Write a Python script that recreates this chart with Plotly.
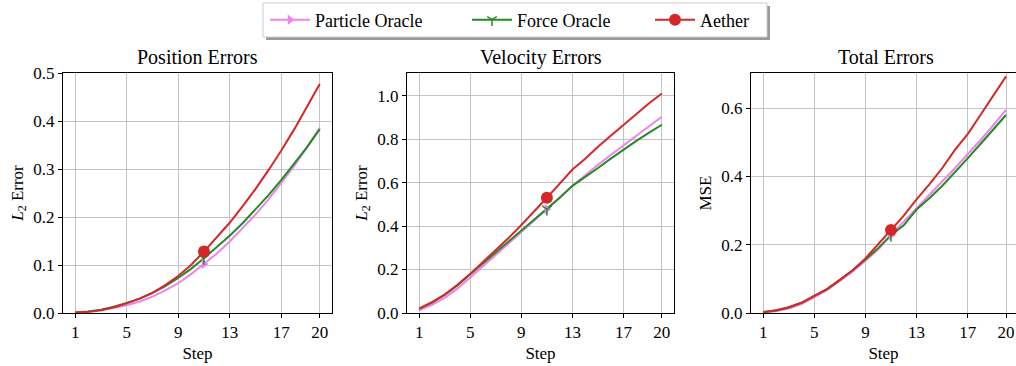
import plotly.graph_objects as go

steps = list(range(1, 21))
tick_steps = [1, 5, 9, 13, 17, 20]
marker_step = 11

series_names = ["Particle Oracle", "Force Oracle", "Aether"]

pos_particle = [0.0008, 0.002, 0.005, 0.0097, 0.016, 0.024, 0.034, 0.047, 0.062, 0.081,
                0.102, 0.124, 0.149, 0.176, 0.205, 0.236, 0.270, 0.306, 0.345, 0.386]
pos_force = [0.001, 0.003, 0.0068, 0.013, 0.021, 0.030, 0.042, 0.056, 0.073, 0.092,
             0.114, 0.137, 0.161, 0.187, 0.215, 0.245, 0.277, 0.310, 0.345, 0.383]
pos_aether = [0.001, 0.0025, 0.006, 0.012, 0.020, 0.030, 0.042, 0.058, 0.077, 0.100,
              0.128, 0.157, 0.188, 0.222, 0.258, 0.297, 0.338, 0.382, 0.428, 0.477]

vel_particle = [0.012, 0.038, 0.07, 0.112, 0.163, 0.215, 0.268, 0.32, 0.372, 0.425,
                0.478, 0.53, 0.585, 0.635, 0.682, 0.727, 0.77, 0.815, 0.86, 0.903]
vel_force = [0.02, 0.048, 0.083, 0.127, 0.178, 0.228, 0.28, 0.332, 0.382, 0.43,
             0.478, 0.53, 0.585, 0.625, 0.667, 0.71, 0.752, 0.792, 0.83, 0.866]
vel_aether = [0.02, 0.05, 0.085, 0.13, 0.18, 0.235, 0.29, 0.345, 0.405, 0.465,
              0.53, 0.595, 0.66, 0.71, 0.765, 0.815, 0.865, 0.915, 0.965, 1.01]

tot_particle = [0.0015, 0.005, 0.013, 0.026, 0.046, 0.068, 0.094, 0.122, 0.153, 0.186,
                0.228, 0.268, 0.305, 0.347, 0.385, 0.424, 0.464, 0.506, 0.55, 0.595]
tot_force = [0.002, 0.007, 0.016, 0.03, 0.05, 0.07, 0.097, 0.125, 0.157, 0.19,
             0.228, 0.257, 0.303, 0.336, 0.372, 0.411, 0.453, 0.495, 0.538, 0.58]
tot_aether = [0.003, 0.008, 0.017, 0.03, 0.05, 0.07, 0.097, 0.125, 0.16, 0.2,
              0.243, 0.285, 0.333, 0.377, 0.424, 0.478, 0.524, 0.58, 0.637, 0.693]

panel_titles = ["Position Errors", "Velocity Errors", "Total Errors"]
y_titles = ["<i>L</i><sub>2</sub> Error", "<i>L</i><sub>2</sub> Error", "MSE"]

colors = ["#EE82EE", "#228B22", "#D62728"]
symbols = ["triangle-right", "y-down", "circle"]
msizes = [9, 8, 12]

panels = [
    [pos_particle, pos_force, pos_aether],
    [vel_particle, vel_force, vel_aether],
    [tot_particle, tot_force, tot_aether],
]

W, H = 1016, 366
x_dom_px = [(63, 332), (407, 674), (751, 1016)]
y_dom_px = (73, 313)
x_ranges = [[0.05, 20.95], [0.05, 20.95], [0.05, 20.78]]
y_ranges = [[0, 0.5], [0, 1.104], [0, 0.703]]
y_dticks = [0.1, 0.2, 0.2]
legend_x_px = [265, 467, 650]

FONT = "Liberation Serif, Times New Roman, serif"


def marker_style(i):
    mk = dict(color=colors[i], size=msizes[i], symbol=symbols[i])
    if symbols[i] == "y-down":
        mk["line"] = dict(color=colors[i], width=1.5)
    return mk


fig = go.Figure()

for p, data in enumerate(panels):
    xa = "x" if p == 0 else f"x{p+1}"
    ya = "y" if p == 0 else f"y{p+1}"
    for i, vals in enumerate(data):
        fig.add_trace(go.Scatter(
            x=steps, y=vals, mode="lines", xaxis=xa, yaxis=ya,
            line=dict(color=colors[i], width=2), showlegend=False, hoverinfo="skip"))
    k = steps.index(marker_step)
    for i, vals in enumerate(data):
        fig.add_trace(go.Scatter(
            x=[steps[k]], y=[vals[k]], mode="markers", xaxis=xa, yaxis=ya,
            marker=marker_style(i), showlegend=False, hoverinfo="skip"))

# legend entries (one legend per entry, positioned like the reference)
legend_ids = ["legend", "legend2", "legend3"]
for i, name in enumerate(series_names):
    fig.add_trace(go.Scatter(
        x=[None], y=[None], mode="lines+markers", name=name, legend=legend_ids[i],
        line=dict(color=colors[i], width=2), marker=marker_style(i), showlegend=True))

layout = dict(
    width=W, height=H,
    margin=dict(l=0, r=0, t=0, b=0, pad=0),
    paper_bgcolor="white", plot_bgcolor="white",
    font=dict(family=FONT, size=16, color="black"),
    showlegend=True,
    annotations=[],
    shapes=[],
)

for i, lid in enumerate(legend_ids):
    layout[lid] = dict(
        orientation="h", x=legend_x_px[i] / W, xanchor="left",
        y=1 - 20 / H, yanchor="middle",
        bgcolor="rgba(0,0,0,0)", borderwidth=0,
        font=dict(family=FONT, size=18), itemwidth=40)

for p in range(3):
    sfx = "" if p == 0 else str(p + 1)
    x0, x1 = x_dom_px[p]
    layout["xaxis" + sfx] = dict(
        domain=[x0 / W, x1 / W], range=x_ranges[p], anchor="y" + sfx,
        tickvals=tick_steps, ticks="outside", ticklen=4, tickwidth=1, tickcolor="black",
        showline=True, linecolor="black", linewidth=1, mirror=True,
        showgrid=True, gridcolor="#c4c4c4", gridwidth=1, zeroline=False,
        tickfont=dict(family=FONT, size=17, color="black"), automargin=False,
        title=dict(text="Step", font=dict(family=FONT, size=17), standoff=5),
    )
    layout["yaxis" + sfx] = dict(
        domain=[1 - y_dom_px[1] / H, 1 - y_dom_px[0] / H], range=y_ranges[p],
        anchor="x" + sfx, dtick=y_dticks[p], tick0=0, tickformat=".1f",
        ticks="outside", ticklen=4, tickwidth=1, tickcolor="black",
        showline=True, linecolor="black", linewidth=1, mirror=True,
        showgrid=True, gridcolor="#c4c4c4", gridwidth=1, zeroline=False,
        tickfont=dict(family=FONT, size=17, color="black"), automargin=False,
        title=dict(text=y_titles[p], font=dict(family=FONT, size=17), standoff=5),
    )
    layout["annotations"].append(dict(
        text=panel_titles[p], xref="paper", yref="paper",
        x=((x0 + x1) / 2) / W if p < 2 else ((x0 + 1020) / 2) / W,
        y=1 - 57 / H, xanchor="center", yanchor="middle",
        showarrow=False, font=dict(family=FONT, size=20)))

# legend frame shadow and box
layout["shapes"].append(dict(
    type="rect", xref="paper", yref="paper",
    x0=266 / W, x1=770 / W, y0=1 - 40 / H, y1=1 - 6 / H,
    fillcolor="#9a9a9a", line=dict(width=0), layer="above"))
layout["shapes"].append(dict(
    type="rect", xref="paper", yref="paper",
    x0=263 / W, x1=767 / W, y0=1 - 37 / H, y1=1 - 3 / H,
    fillcolor="white", line=dict(color="#cccccc", width=1), layer="above"))

fig.update_layout(**layout)
fig.write_html("out.html")
